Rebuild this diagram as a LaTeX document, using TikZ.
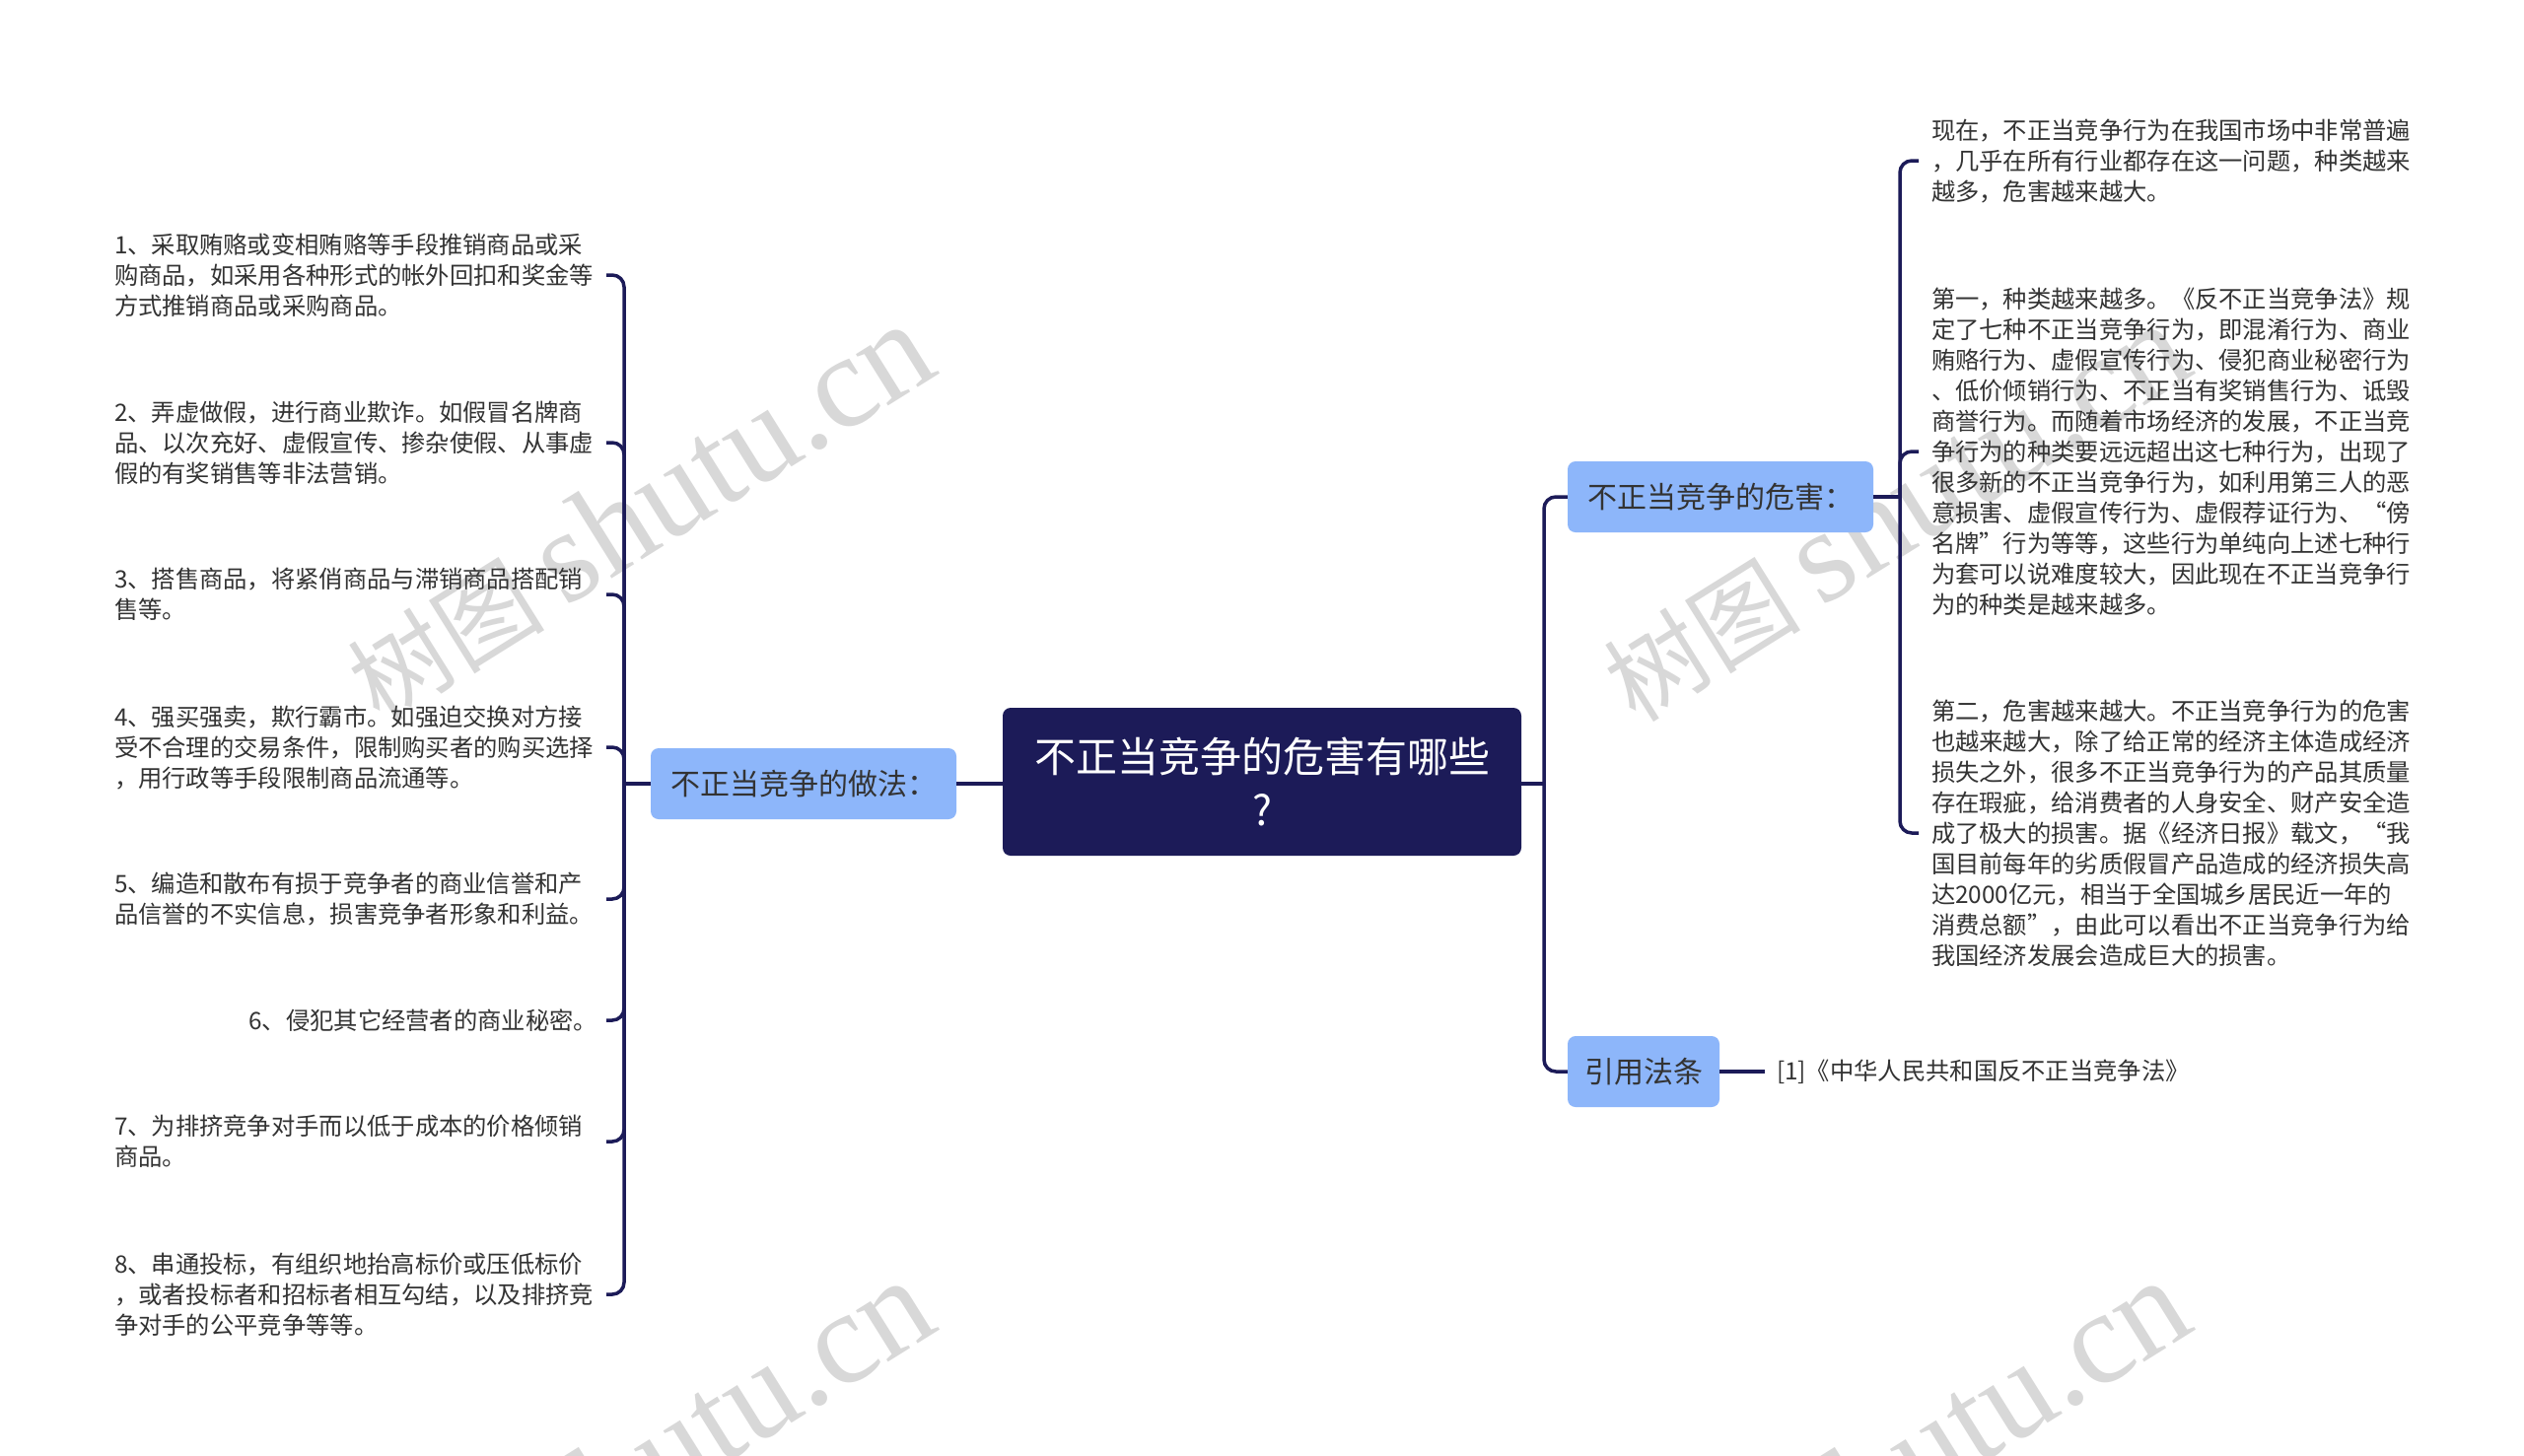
\documentclass[tikz,border=0pt]{standalone}
\usepackage{fontspec}
\setmainfont{Noto Sans CJK SC}
\newfontfamily\wmserif{Liberation Serif}
\newfontfamily\wmcjk{Noto Sans CJK SC}
\definecolor{navy}{RGB}{28,27,88}
\definecolor{lblue}{RGB}{141,182,250}
\definecolor{txt}{RGB}{51,51,51}
\definecolor{wm}{RGB}{216,216,216}
\tikzset{
  leaf/.style={font=\fontsize{24.3}{31}\selectfont, text=txt, inner sep=0pt, text width=490pt},
  leafL/.style={leaf, anchor=east, outer xsep=9pt, align=left},
  leafLR/.style={leaf, anchor=east, outer xsep=9pt, align=right},
  leafR/.style={leaf, anchor=west, outer xsep=13pt, align=left},
  central/.style={fill=navy, rounded corners=8pt, minimum width=526pt, minimum height=150pt, text=white, font=\fontsize{42}{54}\selectfont, align=center, inner sep=0pt},
  branch/.style={fill=lblue, rounded corners=8pt, minimum height=72pt, text=txt, font=\fontsize{30}{36}\selectfont, inner sep=0pt},
  citetext/.style={font=\fontsize{24.3}{31}\selectfont, text=txt, inner sep=0pt, anchor=west, outer xsep=12pt},
  conn/.style={draw=navy, line width=3.5pt, rounded corners=12pt},
  wmark/.style={text=wm, rotate=32, inner sep=0pt}
}
\newcommand{\wmtext}{{\wmcjk\fontsize{100}{100}\selectfont 树图}{\wmserif\fontsize{134}{134}\selectfont\,shutu.cn}}
\begin{document}
\begin{tikzpicture}[x=1pt,y=-1pt]
\useasboundingbox[fill=white] (0,0) rectangle (2560,1476);
\begin{scope}
\clip (0,0) rectangle (2560,1476);
\node[wmark] (w1) at (648,520) {\wmtext};
\node[wmark] (w2) at (1922,520) {\wmtext};
\node[wmark] (w3) at (648,1490) {\wmtext};
\node[wmark] (w4) at (1922,1490) {\wmtext};
\end{scope}

% central and branches
\node[central] (c) at (1280,793) {不正当竞争的危害有哪些\\?};
\node[branch, minimum width=310pt] (lm) at (815,795) {不正当竞争的做法：};
\node[branch, minimum width=310pt] (d) at (1745,504) {不正当竞争的危害：};
\node[branch, minimum width=154pt] (ci) at (1667,1087) {引用法条};
\node[citetext] (ct) at (1790,1087) {[1]《中华人民共和国反不正当竞争法》};

% left leaves
\node[leafL] (L1) at (615,279) {1、采取贿赂或变相贿赂等手段推销商品或采\\购商品，如采用各种形式的帐外回扣和奖金等\\方式推销商品或采购商品。};
\node[leafL] (L2) at (615,449) {2、弄虚做假，进行商业欺诈。如假冒名牌商\\品、以次充好、虚假宣传、掺杂使假、从事虚\\假的有奖销售等非法营销。};
\node[leafL] (L3) at (615,603) {3、搭售商品，将紧俏商品与滞销商品搭配销\\售等。};
\node[leafL] (L4) at (615,758) {4、强买强卖，欺行霸市。如强迫交换对方接\\受不合理的交易条件，限制购买者的购买选择\\，用行政等手段限制商品流通等。};
\node[leafL] (L5) at (615,912) {5、编造和散布有损于竞争者的商业信誉和产\\品信誉的不实信息，损害竞争者形象和利益。};
\node[leafLR] (L6) at (615,1035) {6、侵犯其它经营者的商业秘密。};
\node[leafL] (L7) at (615,1158) {7、为排挤竞争对手而以低于成本的价格倾销\\商品。};
\node[leafL] (L8) at (615,1313) {8、串通投标，有组织地抬高标价或压低标价\\，或者投标者和招标者相互勾结，以及排挤竞\\争对手的公平竞争等等。};

% right leaves
\node[leafR] (R1) at (1946,163) {现在，不正当竞争行为在我国市场中非常普遍\\，几乎在所有行业都存在这一问题，种类越来\\越多，危害越来越大。};
\node[leafR] (R2) at (1946,458) {第一，种类越来越多。《反不正当竞争法》规\\定了七种不正当竞争行为，即混淆行为、商业\\贿赂行为、虚假宣传行为、侵犯商业秘密行为\\、低价倾销行为、不正当有奖销售行为、诋毁\\商誉行为。而随着市场经济的发展，不正当竞\\争行为的种类要远远超出这七种行为，出现了\\很多新的不正当竞争行为，如利用第三人的恶\\意损害、虚假宣传行为、虚假荐证行为、“傍\\名牌”行为等等，这些行为单纯向上述七种行\\为套可以说难度较大，因此现在不正当竞争行\\为的种类是越来越多。};
\node[leafR] (R3) at (1946,845) {第二，危害越来越大。不正当竞争行为的危害\\也越来越大，除了给正常的经济主体造成经济\\损失之外，很多不正当竞争行为的产品其质量\\存在瑕疵，给消费者的人身安全、财产安全造\\成了极大的损害。据《经济日报》载文，“我\\国目前每年的劣质假冒产品造成的经济损失高\\达2000亿元，相当于全国城乡居民近一年的\\消费总额”，由此可以看出不正当竞争行为给\\我国经济发展会造成巨大的损害。};

% connectors
\coordinate (lj) at (633,795);
\draw[conn] (lm.west) -- (lj);
\foreach \i in {1,...,8} { \draw[conn] (lj) |- (L\i.east); }
\coordinate (rj) at (1566,795);
\draw[conn] (c.east |- lj) -- (rj);
\draw[conn] (rj) |- (d.west);
\draw[conn] (rj) |- (ci.west);
\coordinate (dj) at (1927,504);
\draw[conn] (d.east) -- (dj);
\foreach \i in {1,2,3} { \draw[conn] (dj) |- (R\i.west); }
\draw[conn] (ci.east) -- (ct.west);
\draw[conn] (c.west |- lj) -- (lm.east);
\end{tikzpicture}
\end{document}
